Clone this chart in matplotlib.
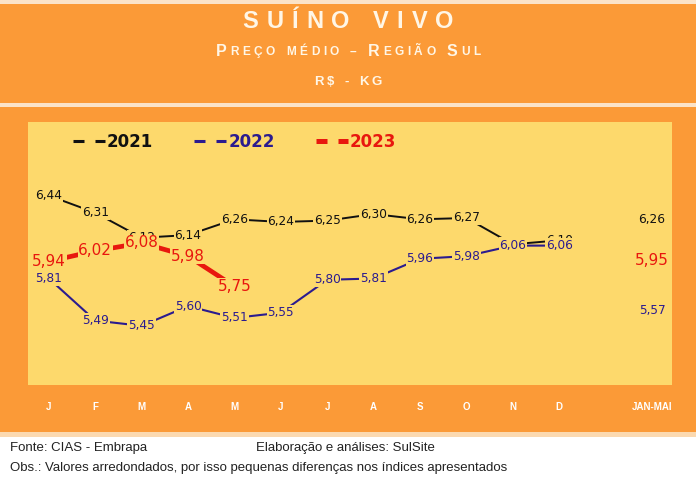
import matplotlib
matplotlib.use('Agg')
import matplotlib.pyplot as plt
from matplotlib.patches import Rectangle
from matplotlib.lines import Line2D

# dados (R$/kg)
meses = ['J', 'F', 'M', 'A', 'M', 'J', 'J', 'A', 'S', 'O', 'N', 'D']
rotulo_media = 'JAN-MAI'
precos_2021 = [6.44, 6.31, 6.12, 6.14, 6.26, 6.24, 6.25, 6.30, 6.26, 6.27, 6.07, 6.10]
precos_2022 = [5.81, 5.49, 5.45, 5.60, 5.51, 5.55, 5.80, 5.81, 5.96, 5.98, 6.06, 6.06]
precos_2023 = [5.94, 6.02, 6.08, 5.98, 5.75]
media_2021 = 6.26
media_2022 = 5.57
media_2023 = 5.95
anos = ['2021', '2022', '2023']

LARANJA = '#FB9A37'
AMARELO = '#FDD96C'
CREME = '#FFF6E6'
PRETO = '#111111'
AZUL = '#2B1B8F'
VERMELHO = '#E8170E'
W, H = 696, 483

fig = plt.figure(figsize=(W / 100, H / 100), dpi=100)
fig.patch.set_facecolor('white')

# faixas laranja
def faixa(y0, y1, cor=LARANJA):
    fig.patches.append(Rectangle((0, 1 - y1 / H), 1, (y1 - y0) / H,
                                 transform=fig.transFigure, facecolor=cor,
                                 edgecolor='none', zorder=-5))

faixa(0, 4, '#FBE3C8')
faixa(4, 103)
faixa(103, 107, '#FBE3C8')
faixa(107, 432)
faixa(432, 437, '#FBD9B0')


def texto_espacado(y, partes, track, cor=CREME):
    renderer = fig.canvas.get_renderer()
    itens = []
    for s, size in partes:
        for ch in s:
            if ch == ' ':
                itens.append((None, size * 0.45))
                continue
            t = fig.text(0, 1 - y / H, ch, fontsize=size, color=cor,
                         fontweight='bold', family='Liberation Sans',
                         va='center', ha='left')
            itens.append((t, t.get_window_extent(renderer).width))
    total = sum(w for _, w in itens) + track * (len(itens) - 1)
    x = (W - total) / 2
    for t, w in itens:
        if t is not None:
            t.set_x(x / W)
        x += w + track


texto_espacado(22, [('SUÍNO VIVO', 17)], 8.0)
texto_espacado(52, [('P', 11.5), ('REÇO MÉDIO – ', 8.6), ('R', 11.5),
                    ('EGIÃO ', 8.6), ('S', 11.5), ('UL', 8.6)], 3.6)
texto_espacado(82, [('R$ - KG', 9.5)], 3.0)

# area do grafico
ax = fig.add_axes([28 / W, 1 - 385 / H, 644 / W, 263 / H])
ax.set_facecolor(AMARELO)
for s in ax.spines.values():
    s.set_visible(False)
ax.set_xlim(-0.45, 13.43)
ax.set_ylim(5.0, 7.0)
ax.set_yticks([])

x_mes = list(range(len(meses)))
x_media = len(meses) + 1
ax.set_xticks(x_mes + [x_media])
ax.set_xticklabels(meses + [rotulo_media], color='white', fontweight='bold',
                   fontsize=7, family=['Liberation Sans Narrow', 'Liberation Sans'])
ax.tick_params(axis='x', length=0, pad=12)

series = [
    (precos_2021, media_2021, PRETO, 1.4, 8.7),
    (precos_2022, media_2022, AZUL, 1.5, 8.7),
    (precos_2023, media_2023, VERMELHO, 3.4, 11),
]
handles = []
for i, (vals, media, cor, lw, fs) in enumerate(series):
    xs = x_mes[:len(vals)]
    z = 2 + i * 2
    ax.plot(xs, vals, color=cor, lw=lw, zorder=z, solid_capstyle='butt')
    for xv, v in list(zip(xs, vals)) + [(x_media, media)]:
        ax.text(xv, v, f'{v:.2f}'.replace('.', ','), color=cor, fontsize=fs,
                ha='center', va='center', family='DejaVu Sans', zorder=z + 1,
                bbox=dict(facecolor=AMARELO, edgecolor='none', pad=0.6))
    if i < 2:
        handles.append(Line2D([], [], color=cor, lw=2.2, ls=(0, (3.6, 3.6))))
    else:
        handles.append(Line2D([], [], color=cor, lw=3.6, ls=(0, (2.2, 2.2))))

leg = ax.legend(handles, anos, loc='center left', bbox_to_anchor=(0.0, 0.924),
                ncol=3, frameon=False, handlelength=1.92, handletextpad=0.12,
                columnspacing=2.46, borderpad=0, borderaxespad=0,
                prop={'family': 'DejaVu Sans', 'weight': 'bold', 'size': 12})
# deslocar a legenda para comecar em x~73 px
leg.set_bbox_to_anchor((45 / 644, 0.924), transform=ax.transAxes)
for t, s in zip(leg.get_texts(), series):
    t.set_color(s[2])

# rodape
fig.text(10 / W, 1 - 448 / H, 'Fonte: CIAS - Embrapa', fontsize=9.5,
         family='Liberation Sans', va='center', color='#222222')
fig.text(256 / W, 1 - 448 / H, 'Elaboração e análises: SulSite', fontsize=9.5,
         family='Liberation Sans', va='center', color='#222222')
fig.text(10 / W, 1 - 468 / H,
         'Obs.: Valores arredondados, por isso pequenas diferenças nos índices apresentados',
         fontsize=9.5, family='Liberation Sans', va='center', color='#222222')

fig.savefig('out.png', dpi=100)
